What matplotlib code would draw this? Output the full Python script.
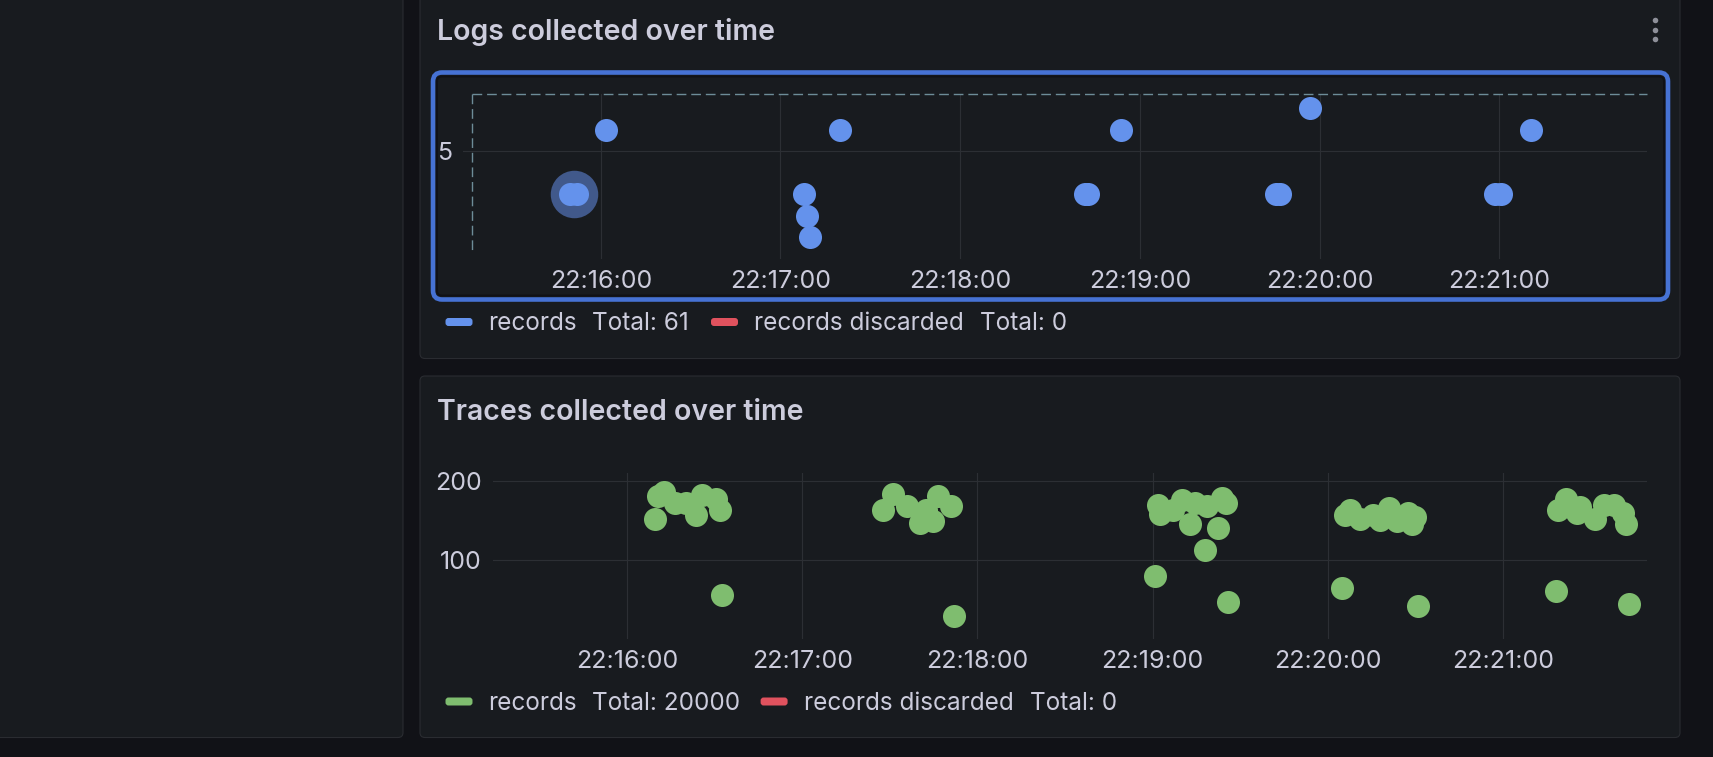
import numpy as np
import pandas as pd
import matplotlib
matplotlib.use("Agg")
import matplotlib.pyplot as plt
import matplotlib.dates as mdates
from matplotlib.patches import FancyBboxPatch

plt.rcParams['font.family'] = ['Inter', 'DejaVu Sans']

W, H = 1713, 757
DAY = "2024-01-01 "

# --- data ---
log_times = ["22:15:49.8", "22:15:52.2", "22:16:01.9",
             "22:17:08.0", "22:17:08.9", "22:17:09.9", "22:17:19.9",
             "22:18:41.5", "22:18:42.8", "22:18:53.7",
             "22:19:45.4", "22:19:46.8", "22:19:56.7",
             "22:20:58.6", "22:21:00.6", "22:21:10.7"]
log_values = [3, 3, 6, 3, 2, 1, 6, 3, 3, 6, 3, 3, 7, 3, 3, 6]
hover_time = ["22:15:51.0"]
hover_value = [3]

trace_times = ["22:16:09.6", "22:16:10.7", "22:16:12.8", "22:16:16.3", "22:16:20.3",
               "22:16:23.7", "22:16:25.7", "22:16:30.5", "22:16:31.7", "22:16:32.6",
               "22:17:27.8", "22:17:30.9", "22:17:35.7", "22:17:40.2", "22:17:42.5",
               "22:17:44.8", "22:17:46.5", "22:17:51.0", "22:17:51.9",
               "22:19:00.8", "22:19:01.8", "22:19:02.5", "22:19:07.1", "22:19:10.0",
               "22:19:12.8", "22:19:14.5", "22:19:18.0", "22:19:18.5", "22:19:22.5",
               "22:19:23.7", "22:19:25.0", "22:19:25.7",
               "22:20:04.9", "22:20:05.8", "22:20:07.6", "22:20:11.0", "22:20:15.6",
               "22:20:17.9", "22:20:20.8", "22:20:23.7", "22:20:27.6", "22:20:28.8",
               "22:20:29.8", "22:20:31.0",
               "22:21:18.1", "22:21:18.7", "22:21:21.4", "22:21:25.4", "22:21:26.5",
               "22:21:31.6", "22:21:34.5", "22:21:37.9", "22:21:41.0", "22:21:42.1",
               "22:21:43.0"]
trace_values = [152, 181, 186, 172, 172, 157, 182, 177, 163, 55,
                164, 184, 168, 147, 164, 149, 181, 169, 29,
                79, 170, 158, 164, 176, 145, 172, 113, 168, 141, 179, 172, 46,
                65, 157, 163, 152, 157, 151, 166, 150, 160, 146, 155, 42,
                60, 164, 177, 159, 167, 152, 170, 170, 159, 145, 44]

time_window = ["22:15:14.0", "22:21:49.3"]
minute_ticks = ["22:16:00", "22:17:00", "22:18:00", "22:19:00", "22:20:00", "22:21:00"]
log_yticks = [5]
trace_yticks = [100, 200]
log_ymax = 7.67
trace_ymax = 210

PAGE = "#111217"
PANEL = "#181b1f"
BORDER = "#2a2c31"
TEXT = "#ccccdc"
GRID = "#2c2f34"
BLUE = "#6492ec"
GREEN = "#7fbd6f"
RED = "#e0525e"
FOCUS = "#4672d4"


def to_dt(ts):
    return pd.to_datetime([DAY + t for t in ts]).to_pydatetime()


def px_axes(fig, x0, y0, x1, y1):
    # pixel box (top-down) -> figure fraction
    return fig.add_axes([x0 / W, 1 - y1 / H, (x1 - x0) / W, (y1 - y0) / H])


fig = plt.figure(figsize=(W / 100, H / 100), dpi=100, facecolor=PAGE)

bg = fig.add_axes([0, 0, 1, 1])
bg.set_xlim(0, W)
bg.set_ylim(H, 0)
bg.axis('off')
bg.set_zorder(0)

def panel(x, y, w, h):
    bg.add_patch(FancyBboxPatch((x, y), w, h, boxstyle="round,pad=0,rounding_size=5",
                                fc=PANEL, ec=BORDER, lw=0.8))

panel(-10, -20, 413, 757.5)
panel(420, -20, 1260, 378.5)
panel(420, 376, 1260, 361.5)

# focus outline around the logs plot
bg.add_patch(FancyBboxPatch((433, 72.5), 1235, 227, boxstyle="round,pad=0,rounding_size=9",
                            fc='none', ec=FOCUS, lw=3.3))
bg.add_patch(FancyBboxPatch((437, 76.5), 1227, 219, boxstyle="round,pad=0,rounding_size=5",
                            fc='none', ec='#101116', lw=1.4))

bg.text(437, 32, "Logs collected over time", fontsize=20.5, color=TEXT,
        va='center', ha='left', weight='semibold')
bg.text(437, 412, "Traces collected over time", fontsize=20.5, color=TEXT,
        va='center', ha='left', weight='semibold')
bg.scatter([1655, 1655, 1655], [19.5, 29.5, 39.3], s=16, color='#8e9099', lw=0)


def legend(y, color, total, xs):
    bx, tx1, tx2, rx, tx3, tx4 = xs
    bg.add_patch(FancyBboxPatch((bx, y - 4), 27, 8, boxstyle="round,pad=0,rounding_size=3",
                                fc=color, lw=0))
    bg.add_patch(FancyBboxPatch((rx, y - 4), 27, 8, boxstyle="round,pad=0,rounding_size=3",
                                fc=RED, lw=0))
    for x, s in [(tx1, "records"), (tx2, total), (tx3, "records discarded"), (tx4, "Total: 0")]:
        bg.text(x, y + 1.5, s, fontsize=17.5, color=TEXT, va='center', ha='left')

legend(322, BLUE, "Total: 61", [445.5, 488, 592, 711, 754.5, 980.5])
legend(701.5, GREEN, "Total: 20000", [445.5, 488, 592, 760.6, 803.5, 1029.5])


def style(ax, yticks, ymax):
    ax.set_facecolor('none')
    for sp in ax.spines.values():
        sp.set_visible(False)
    ax.set_xlim(to_dt(time_window))
    ax.set_ylim(0, ymax)
    ax.set_xticks(to_dt(minute_ticks))
    ax.xaxis.set_major_formatter(mdates.DateFormatter("%H:%M:%S"))
    ax.set_yticks(yticks)
    ax.tick_params(colors=TEXT, labelsize=18, length=0, pad=8)
    ax.grid(True, color=GRID, lw=0.8)
    ax.set_axisbelow(True)


ax1 = px_axes(fig, 463, 94, 1647, 259)
style(ax1, log_yticks, log_ymax)
ax1.scatter(to_dt(hover_time), hover_value, s=1170, color='#41598b', lw=0, zorder=2)
ax1.scatter(to_dt(log_times), log_values, s=275, color=BLUE, lw=0, zorder=3)
# dashed guide along the top and left of the logs plot
dash_x0 = 0.0076
ax1.plot([dash_x0, 1], [1, 1], transform=ax1.transAxes, color='#6d8c98', lw=1.0,
         ls=(0, (7, 3.5)), clip_on=False, zorder=1)
ax1.plot([dash_x0, dash_x0], [1, 0.05], transform=ax1.transAxes, color='#6d8c98', lw=1.0,
         ls=(0, (7, 3.5)), clip_on=False, zorder=1)

ax2 = px_axes(fig, 492.8, 473.3, 1647, 638.7)
style(ax2, trace_yticks, trace_ymax)
ax2.scatter(to_dt(trace_times), trace_values, s=275, color=GREEN, lw=0, zorder=3)

fig.savefig("out.png", dpi=100, facecolor=PAGE)
